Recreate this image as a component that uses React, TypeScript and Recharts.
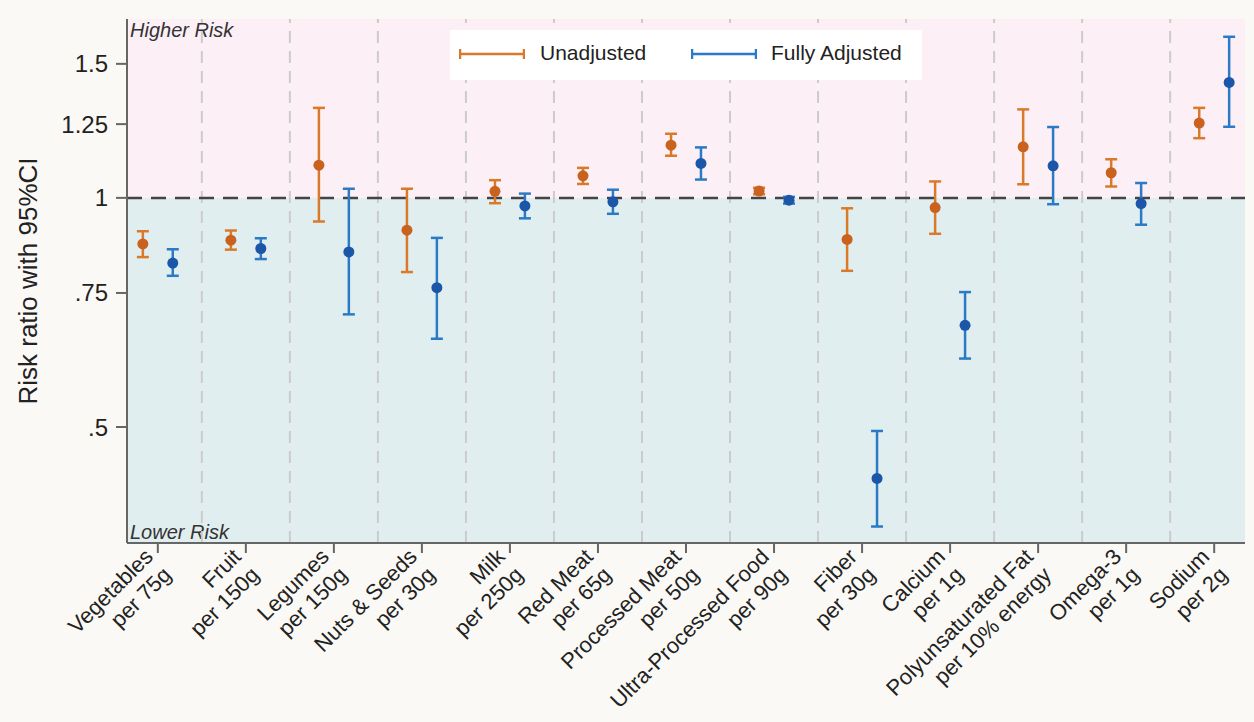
import React from 'react';
import {
  ComposedChart,
  Scatter,
  ErrorBar,
  XAxis,
  YAxis,
  ReferenceArea,
  ReferenceLine,
  Legend,
} from 'recharts';

const categories = [
  'Vegetables', 'Fruit', 'Legumes', 'Nuts & Seeds', 'Milk', 'Red Meat', 'Processed Meat',
  'Ultra-Processed Food', 'Fiber', 'Calcium', 'Polyunsaturated Fat', 'Omega-3', 'Sodium',
];
const units = [
  'per 75g', 'per 150g', 'per 150g', 'per 30g', 'per 250g', 'per 65g', 'per 50g',
  'per 90g', 'per 30g', 'per 1g', 'per 10% energy', 'per 1g', 'per 2g',
];

// risk ratios with 95% CI
const unadjRR = [0.870, 0.880, 1.104, 0.907, 1.020, 1.069, 1.173, 1.021, 0.882, 0.971, 1.167, 1.079, 1.254];
const unadjLo = [0.836, 0.855, 0.931, 0.799, 0.984, 1.043, 1.136, 1.011, 0.802, 0.897, 1.042, 1.035, 1.198];
const unadjHi = [0.904, 0.906, 1.313, 1.028, 1.055, 1.095, 1.214, 1.031, 0.969, 1.051, 1.307, 1.124, 1.313];

const adjRR = [0.821, 0.858, 0.849, 0.762, 0.976, 0.988, 1.110, 0.993, 0.428, 0.680, 1.102, 0.983, 1.418];
const adjLo = [0.790, 0.831, 0.703, 0.653, 0.940, 0.953, 1.057, 0.983, 0.370, 0.615, 0.981, 0.922, 1.240];
const adjHi = [0.856, 0.885, 1.028, 0.886, 1.013, 1.025, 1.165, 1.003, 0.494, 0.752, 1.239, 1.046, 1.628];

const yTicks = [0.5, 0.75, 1, 1.25, 1.5];
const yTickLabels = ['.5', '.75', '1', '1.25', '1.5'];

const Y_DOMAIN: [number, number] = [0.352, 1.718];
const X_DOMAIN: [number, number] = [0.65, 13.35];
const OFFSET = 0.17;

const ORANGE = '#D97A2B';
const ORANGE_DOT = '#C9621F';
const BLUE = '#2A7AC5';
const BLUE_DOT = '#1B56A8';
const FONT = '"Liberation Sans", Arial, Helvetica, sans-serif';

const toPoints = (rr: number[], lo: number[], hi: number[], shift: number) =>
  rr.map((v, i) => ({ x: i + 1 + shift, y: v, err: [v - lo[i], hi[i] - v] }));

const unadjData = toPoints(unadjRR, unadjLo, unadjHi, -OFFSET);
const adjData = toPoints(adjRR, adjLo, adjHi, OFFSET);

const xTicks = categories.map((_, i) => i + 1);
const dividers = categories.slice(1).map((_, i) => i + 1.5);

const CategoryTick = (props: any) => {
  const { x, y, payload } = props;
  const i = Math.round(payload.value) - 1;
  return (
    <g transform={`translate(${x},${y + 8.6}) rotate(-45)`}>
      <text textAnchor="end" fontSize={22} fill="#222" fontFamily={FONT}>
        <tspan x={0} y={-5}>{categories[i]}</tspan>
        <tspan x={0} y={20.5}>{units[i]}</tspan>
      </text>
    </g>
  );
};

const Dot = (color: string) => (p: any) => <circle cx={p.cx} cy={p.cy} r={5.5} fill={color} />;

const LegendSymbol = ({ color }: { color: string }) => (
  <svg width={66} height={14} style={{ display: 'block' }}>
    <line x1={1} y1={7} x2={65} y2={7} stroke={color} strokeWidth={2.5} />
    <line x1={1} y1={2} x2={1} y2={12} stroke={color} strokeWidth={2.5} />
    <line x1={65} y1={2} x2={65} y2={12} stroke={color} strokeWidth={2.5} />
  </svg>
);

const LegendBox = () => (
  <div
    style={{
      width: 472,
      height: 50,
      background: '#fff',
      position: 'relative',
      fontFamily: FONT,
      fontSize: 21,
      color: '#222',
    }}
  >
    <div style={{ position: 'absolute', left: 9, top: 17 }}><LegendSymbol color={ORANGE} /></div>
    <div style={{ position: 'absolute', left: 90, top: 11 }}>Unadjusted</div>
    <div style={{ position: 'absolute', left: 241, top: 17 }}><LegendSymbol color={BLUE} /></div>
    <div style={{ position: 'absolute', left: 321, top: 11 }}>Fully Adjusted</div>
  </div>
);

export default function App() {
  return (
    <div style={{ position: 'absolute', left: 0, top: 0, width: 1254, height: 722, background: '#FAF9F5' }}>
      <ComposedChart width={1254} height={722} margin={{ top: 19, right: 9, bottom: 0, left: 0 }}>
        <XAxis
          type="number"
          dataKey="x"
          domain={X_DOMAIN}
          ticks={xTicks}
          allowDataOverflow
          interval={0}
          height={179}
          tickSize={10}
          tickMargin={0}
          tick={<CategoryTick />}
          axisLine={{ stroke: '#666', strokeWidth: 2 }}
          tickLine={{ stroke: '#666', strokeWidth: 2 }}
        />
        <YAxis
          type="number"
          scale="log"
          domain={Y_DOMAIN}
          ticks={yTicks}
          allowDataOverflow
          interval={0}
          width={127}
          tickSize={11}
          tickMargin={8}
          tickFormatter={(v: number) => yTickLabels[yTicks.indexOf(v)] ?? String(v)}
          tick={{ fontSize: 24, fill: '#222', fontFamily: FONT }}
          axisLine={{ stroke: '#666', strokeWidth: 2 }}
          tickLine={{ stroke: '#666', strokeWidth: 2 }}
          label={{
            content: (p: any) => {
              const vb = p.viewBox || { x: 0, y: 19, height: 524 };
              const cx = vb.x + 37;
              const cy = vb.y + vb.height / 2;
              return (
                <text
                  x={cx}
                  y={cy}
                  transform={`rotate(-90 ${cx} ${cy})`}
                  textAnchor="middle"
                  fontSize={26}
                  fill="#222"
                  fontFamily={FONT}
                >
                  Risk ratio with 95%CI
                </text>
              );
            },
          }}
        />
        <ReferenceArea
          y1={1}
          y2={Y_DOMAIN[1]}
          fill="#FCF0F6"
          fillOpacity={1}
          stroke="none"
          label={{
            content: (p: any) => (
              <text x={p.viewBox.x + 3} y={p.viewBox.y + 18} fontSize={20} fontStyle="italic" fill="#333" fontFamily={FONT}>
                Higher Risk
              </text>
            ),
          }}
        />
        <ReferenceArea
          y1={Y_DOMAIN[0]}
          y2={1}
          fill="#E1EEF0"
          fillOpacity={1}
          stroke="none"
          label={{
            content: (p: any) => (
              <text
                x={p.viewBox.x + 3}
                y={p.viewBox.y + p.viewBox.height - 4}
                fontSize={20}
                fontStyle="italic"
                fill="#333"
                fontFamily={FONT}
              >
                Lower Risk
              </text>
            ),
          }}
        />
        {dividers.map((d) => (
          <ReferenceLine key={d} x={d} stroke="#CBCBCB" strokeWidth={2} strokeDasharray="12 8" />
        ))}
        <ReferenceLine y={1} stroke="#444" strokeWidth={2.5} strokeDasharray="15 9" />
        <Legend
          layout="horizontal"
          verticalAlign="middle"
          align="center"
          content={<LegendBox />}
          wrapperStyle={{ position: 'absolute', left: 450, top: 30, width: 472, height: 50 }}
        />
        <Scatter name="Unadjusted" data={unadjData} dataKey="y" shape={Dot(ORANGE_DOT)} isAnimationActive={false}>
          <ErrorBar dataKey="err" direction="y" width={6} stroke={ORANGE} strokeWidth={2.5} isAnimationActive={false} />
        </Scatter>
        <Scatter name="Fully Adjusted" data={adjData} dataKey="y" shape={Dot(BLUE_DOT)} isAnimationActive={false}>
          <ErrorBar dataKey="err" direction="y" width={6} stroke={BLUE} strokeWidth={2.5} isAnimationActive={false} />
        </Scatter>
      </ComposedChart>
    </div>
  );
}
